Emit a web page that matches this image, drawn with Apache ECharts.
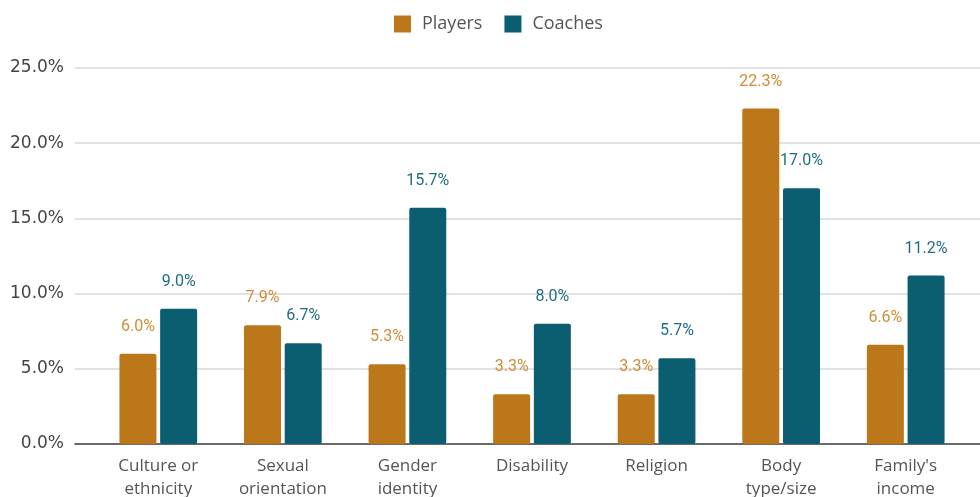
<!DOCTYPE html>
<html>
<head>
<meta charset="utf-8">
<script src="https://cdn.jsdelivr.net/npm/echarts@6/dist/echarts.min.js"></script>
<style>
  html, body { margin: 0; padding: 0; background: #fff; }
  #chart { width: 980px; height: 497px; }
</style>
</head>
<body>
<div id="chart"></div>
<script>
var categories = ['Culture or\nethnicity', 'Sexual\norientation', 'Gender\nidentity', 'Disability', 'Religion', 'Body\ntype/size', "Family's\nincome"]
var players = [6.0, 7.9, 5.3, 3.3, 3.3, 22.3, 6.6]
var coaches = [9.0, 6.7, 15.7, 8.0, 5.7, 17.0, 11.2]
var yTicks = [0, 5, 10, 15, 20, 25]

var orange = '#bc771b'
var teal = '#0b5e6f'

var chart = echarts.init(document.getElementById('chart'))

function pct(v) {
  return v.toFixed(1) + '%'
}

chart.setOption({
  animation: false,
  legend: {
    top: 10,
    left: 389,
    itemWidth: 17,
    itemHeight: 17,
    itemGap: 22,
    textStyle: { fontFamily: 'Open Sans', fontSize: 18, color: '#555', padding: [0, 0, 0, 6] },
    data: [
      { name: 'Players', icon: 'rect' },
      { name: 'Coaches', icon: 'rect' }
    ]
  },
  grid: [
    // background grid: gridlines and y labels
    { left: 75, right: 0, top: 68, bottom: 53, outerBoundsMode: 'none' },
    // bars
    { left: 96, right: 12, top: 68, bottom: 53, outerBoundsMode: 'none' }
  ],
  xAxis: [{
    gridIndex: 0,
    type: 'category',
    data: categories,
    axisLine: { lineStyle: { color: '#444', width: 1.5 } },
    axisTick: { show: false },
    axisLabel: { show: false }
  }, {
    gridIndex: 1,
    type: 'category',
    data: categories,
    axisLine: { show: false },
    axisTick: { show: false },
    axisLabel: {
      margin: 11,
      interval: 0,
      fontFamily: 'Open Sans',
      fontSize: 17,
      lineHeight: 23,
      color: '#555'
    }
  }],
  yAxis: [{
    gridIndex: 0,
    type: 'value',
    min: yTicks[0],
    max: yTicks[yTicks.length - 1],
    interval: 5,
    axisLine: { show: false },
    axisTick: { show: false },
    axisLabel: {
      margin: 11,
      fontFamily: 'DejaVu Sans',
      fontSize: 17,
      color: '#444',
      formatter: function (v) { return pct(v) }
    },
    splitLine: { lineStyle: { color: '#d9d9d9', width: 1.5 } }
  }, {
    gridIndex: 1,
    type: 'value',
    min: yTicks[0],
    max: yTicks[yTicks.length - 1],
    interval: 5,
    show: false,
    splitLine: { show: false }
  }],
  series: [{
    name: 'Players',
    type: 'bar',
    xAxisIndex: 1,
    yAxisIndex: 1,
    data: players,
    barWidth: 37,
    barGap: '10%',
    itemStyle: { color: orange, borderRadius: 2 },
    label: {
      show: true,
      position: 'top',
      distance: 19,
      fontFamily: 'Roboto',
      fontSize: 16,
      color: '#d08d35',
      formatter: function (p) { return pct(p.value) }
    }
  }, {
    name: 'Coaches',
    type: 'bar',
    xAxisIndex: 1,
    yAxisIndex: 1,
    data: coaches,
    barWidth: 37,
    barGap: '10%',
    itemStyle: { color: teal, borderRadius: 2 },
    label: {
      show: true,
      position: 'top',
      distance: 19,
      fontFamily: 'Roboto',
      fontSize: 16,
      color: '#1f6e80',
      formatter: function (p) { return pct(p.value) }
    }
  }]
})
</script>
</body>
</html>
